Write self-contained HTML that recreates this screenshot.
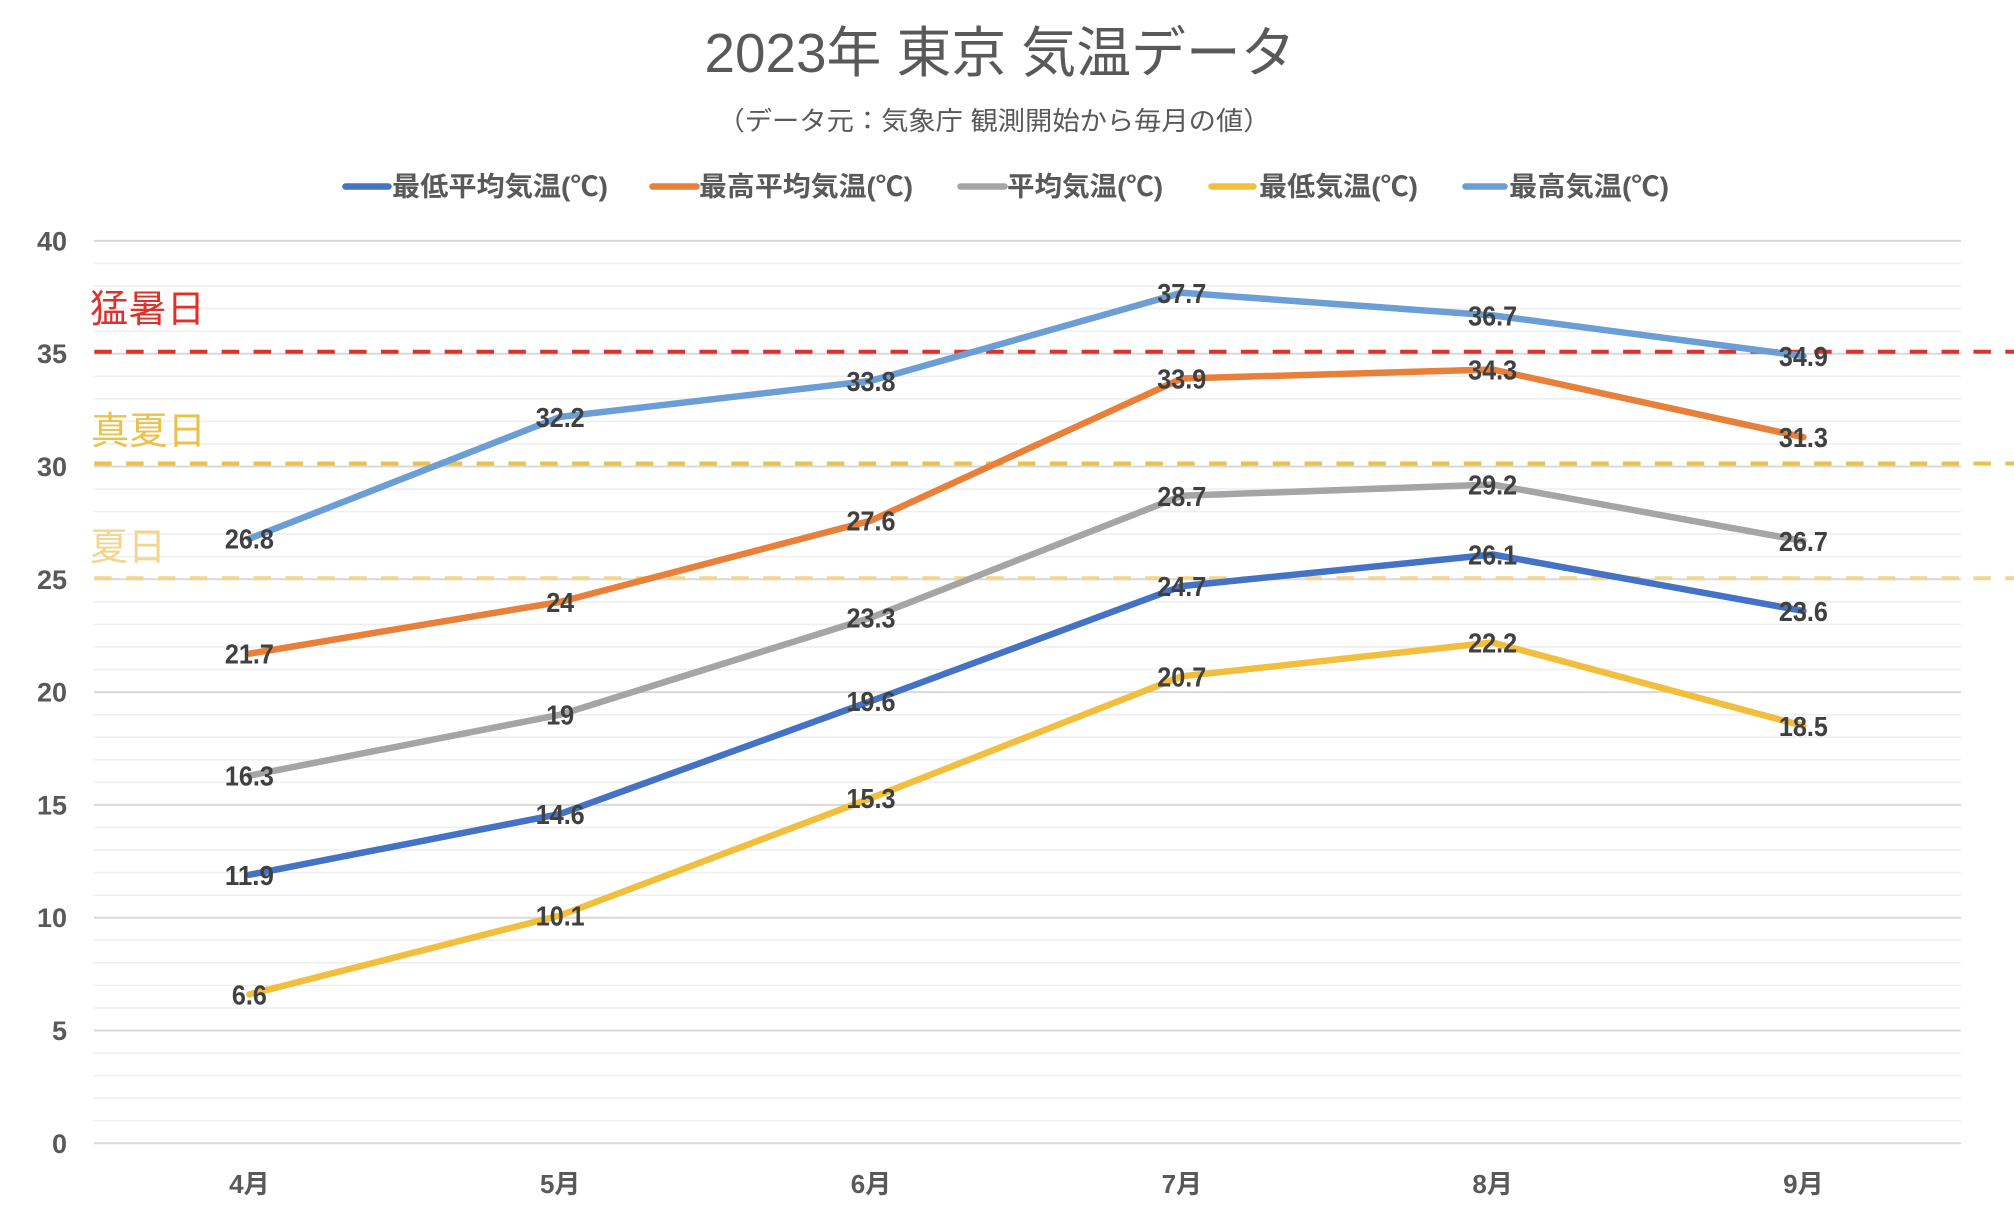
<!DOCTYPE html>
<html><head><meta charset="utf-8"><style>
html,body{margin:0;padding:0;background:#fff;}
svg{display:block;}
text{font-family:"Liberation Sans","Noto Sans CJK JP",sans-serif;}
</style></head><body>
<svg width="2014" height="1216" viewBox="0 0 2014 1216" xmlns="http://www.w3.org/2000/svg">
<rect width="2014" height="1216" fill="#fff"/>
<!-- title -->
<text x="1000" y="72" font-size="55" fill="#595959" text-anchor="middle" textLength="591" lengthAdjust="spacingAndGlyphs">2023年 東京 気温データ</text>
<text x="994" y="130" font-size="26" fill="#595959" text-anchor="middle" textLength="553" lengthAdjust="spacingAndGlyphs">（データ元：気象庁 観測開始から毎月の値）</text>
<!-- legend -->
<g stroke-width="6.5" stroke-linecap="round">
<line x1="345.5" y1="186.5" x2="388.5" y2="186.5" stroke="#4472C4"/>
<line x1="652.5" y1="186.5" x2="696.5" y2="186.5" stroke="#E8803A"/>
<line x1="960.5" y1="186.5" x2="1004.5" y2="186.5" stroke="#A5A5A5"/>
<line x1="1211.5" y1="186.5" x2="1253.5" y2="186.5" stroke="#F2BE3E"/>
<line x1="1465.5" y1="186.5" x2="1504.5" y2="186.5" stroke="#6A9ED4"/>
</g>
<g font-size="27" font-weight="bold" fill="#595959">
<text x="392" y="196" textLength="216" lengthAdjust="spacingAndGlyphs">最低平均気温(℃)</text>
<text x="699" y="196" textLength="214" lengthAdjust="spacingAndGlyphs">最高平均気温(℃)</text>
<text x="1007" y="196" textLength="156" lengthAdjust="spacingAndGlyphs">平均気温(℃)</text>
<text x="1259" y="196" textLength="159" lengthAdjust="spacingAndGlyphs">最低気温(℃)</text>
<text x="1509" y="196" textLength="160" lengthAdjust="spacingAndGlyphs">最高気温(℃)</text>
</g>
<!-- minor gridlines -->
<g stroke="#EFEFEF" stroke-width="1.6">
<line x1="94" x2="1961" y1="1120.74" y2="1120.74"/><line x1="94" x2="1961" y1="1098.18" y2="1098.18"/><line x1="94" x2="1961" y1="1075.62" y2="1075.62"/><line x1="94" x2="1961" y1="1053.06" y2="1053.06"/>
<line x1="94" x2="1961" y1="1007.94" y2="1007.94"/><line x1="94" x2="1961" y1="985.38" y2="985.38"/><line x1="94" x2="1961" y1="962.82" y2="962.82"/><line x1="94" x2="1961" y1="940.26" y2="940.26"/>
<line x1="94" x2="1961" y1="895.14" y2="895.14"/><line x1="94" x2="1961" y1="872.58" y2="872.58"/><line x1="94" x2="1961" y1="850.02" y2="850.02"/><line x1="94" x2="1961" y1="827.46" y2="827.46"/>
<line x1="94" x2="1961" y1="782.34" y2="782.34"/><line x1="94" x2="1961" y1="759.78" y2="759.78"/><line x1="94" x2="1961" y1="737.22" y2="737.22"/><line x1="94" x2="1961" y1="714.66" y2="714.66"/>
<line x1="94" x2="1961" y1="669.54" y2="669.54"/><line x1="94" x2="1961" y1="646.98" y2="646.98"/><line x1="94" x2="1961" y1="624.42" y2="624.42"/><line x1="94" x2="1961" y1="601.86" y2="601.86"/>
<line x1="94" x2="1961" y1="556.74" y2="556.74"/><line x1="94" x2="1961" y1="534.18" y2="534.18"/><line x1="94" x2="1961" y1="511.62" y2="511.62"/><line x1="94" x2="1961" y1="489.06" y2="489.06"/>
<line x1="94" x2="1961" y1="443.94" y2="443.94"/><line x1="94" x2="1961" y1="421.38" y2="421.38"/><line x1="94" x2="1961" y1="398.82" y2="398.82"/><line x1="94" x2="1961" y1="376.26" y2="376.26"/>
<line x1="94" x2="1961" y1="331.14" y2="331.14"/><line x1="94" x2="1961" y1="308.58" y2="308.58"/><line x1="94" x2="1961" y1="286.02" y2="286.02"/><line x1="94" x2="1961" y1="263.46" y2="263.46"/>
</g>
<!-- major gridlines -->
<g stroke="#D9D9D9" stroke-width="2">
<line x1="94" x2="1961" y1="1143.3" y2="1143.3"/><line x1="94" x2="1961" y1="1030.5" y2="1030.5"/><line x1="94" x2="1961" y1="917.7" y2="917.7"/><line x1="94" x2="1961" y1="804.9" y2="804.9"/>
<line x1="94" x2="1961" y1="692.1" y2="692.1"/><line x1="94" x2="1961" y1="579.3" y2="579.3"/><line x1="94" x2="1961" y1="466.5" y2="466.5"/><line x1="94" x2="1961" y1="353.7" y2="353.7"/>
<line x1="94" x2="1961" y1="240.9" y2="240.9"/>
</g>
<!-- y axis labels -->
<g font-size="27" font-weight="bold" fill="#595959" text-anchor="end">
<text x="67" y="250.4">40</text><text x="67" y="363.2">35</text><text x="67" y="476">30</text><text x="67" y="588.8">25</text>
<text x="67" y="701.6">20</text><text x="67" y="814.4">15</text><text x="67" y="927.2">10</text><text x="67" y="1040">5</text><text x="67" y="1152.8">0</text>
</g>
<!-- x axis labels -->
<g font-size="26" font-weight="bold" fill="#595959" text-anchor="middle">
<text x="249.4" y="1193">4月</text><text x="560.2" y="1193">5月</text><text x="871" y="1193">6月</text>
<text x="1181.8" y="1193">7月</text><text x="1492.6" y="1193">8月</text><text x="1803.4" y="1193">9月</text>
</g>
<!-- threshold dashed lines -->
<g stroke-width="4" stroke-dasharray="17.5 14.35" fill="none">
<line x1="94.3" x2="2014" y1="351.7" y2="351.7" stroke="#E0302A"/>
<line x1="94.3" x2="2014" y1="463.5" y2="463.5" stroke="#EBC14A"/>
<line x1="94.3" x2="2014" y1="578.3" y2="578.3" stroke="#F0D68E"/>
</g>
<!-- threshold labels -->
<text x="90" y="322" font-size="38" fill="#E0302A" textLength="115" lengthAdjust="spacingAndGlyphs">猛暑日</text>
<text x="91" y="444" font-size="38" fill="#EBC14A" textLength="115" lengthAdjust="spacingAndGlyphs">真夏日</text>
<text x="90" y="560" font-size="38" fill="#F0D68E" textLength="76" lengthAdjust="spacingAndGlyphs">夏日</text>
<!-- series -->
<g fill="none" stroke-width="6.5" stroke-linejoin="round" stroke-linecap="round">
<polyline stroke="#4472C4" points="249.4,874.8 560.2,813.9 871,701.1 1181.8,586.1 1492.6,554.5 1803.4,610.9"/>
<polyline stroke="#E8803A" points="249.4,653.7 560.2,601.9 871,520.6 1181.8,378.5 1492.6,369.5 1803.4,437.2"/>
<polyline stroke="#A5A5A5" points="249.4,775.6 560.2,714.7 871,617.6 1181.8,495.8 1492.6,484.5 1803.4,541.0"/>
<polyline stroke="#F2BE3E" points="249.4,994.4 560.2,915.4 871,798.1 1181.8,676.3 1492.6,642.5 1803.4,725.9"/>
<polyline stroke="#6A9ED4" points="249.4,538.7 560.2,416.9 871,380.8 1181.8,292.8 1492.6,315.4 1803.4,356.0"/>
</g>
<!-- data labels -->
<g font-size="28" font-weight="bold" fill="#404040" text-anchor="middle" lengthAdjust="spacingAndGlyphs">
<text x="249.4" y="884.8" textLength="49" lengthAdjust="spacingAndGlyphs">11.9</text>
<text x="560.2" y="823.9" textLength="49" lengthAdjust="spacingAndGlyphs">14.6</text>
<text x="871" y="711.1" textLength="49" lengthAdjust="spacingAndGlyphs">19.6</text>
<text x="1181.8" y="596.1" textLength="49" lengthAdjust="spacingAndGlyphs">24.7</text>
<text x="1492.6" y="564.5" textLength="49" lengthAdjust="spacingAndGlyphs">26.1</text>
<text x="1803.4" y="620.9" textLength="49" lengthAdjust="spacingAndGlyphs">23.6</text>

<text x="249.4" y="663.7" textLength="49" lengthAdjust="spacingAndGlyphs">21.7</text>
<text x="560.2" y="611.9" textLength="28" lengthAdjust="spacingAndGlyphs">24</text>
<text x="871" y="530.6" textLength="49" lengthAdjust="spacingAndGlyphs">27.6</text>
<text x="1181.8" y="388.5" textLength="49" lengthAdjust="spacingAndGlyphs">33.9</text>
<text x="1492.6" y="379.5" textLength="49" lengthAdjust="spacingAndGlyphs">34.3</text>
<text x="1803.4" y="447.2" textLength="49" lengthAdjust="spacingAndGlyphs">31.3</text>

<text x="249.4" y="785.6" textLength="49" lengthAdjust="spacingAndGlyphs">16.3</text>
<text x="560.2" y="724.7" textLength="28" lengthAdjust="spacingAndGlyphs">19</text>
<text x="871" y="627.6" textLength="49" lengthAdjust="spacingAndGlyphs">23.3</text>
<text x="1181.8" y="505.8" textLength="49" lengthAdjust="spacingAndGlyphs">28.7</text>
<text x="1492.6" y="494.5" textLength="49" lengthAdjust="spacingAndGlyphs">29.2</text>
<text x="1803.4" y="551.0" textLength="49" lengthAdjust="spacingAndGlyphs">26.7</text>

<text x="249.4" y="1004.4" textLength="35" lengthAdjust="spacingAndGlyphs">6.6</text>
<text x="560.2" y="925.4" textLength="49" lengthAdjust="spacingAndGlyphs">10.1</text>
<text x="871" y="808.1" textLength="49" lengthAdjust="spacingAndGlyphs">15.3</text>
<text x="1181.8" y="686.3" textLength="49" lengthAdjust="spacingAndGlyphs">20.7</text>
<text x="1492.6" y="652.5" textLength="49" lengthAdjust="spacingAndGlyphs">22.2</text>
<text x="1803.4" y="735.9" textLength="49" lengthAdjust="spacingAndGlyphs">18.5</text>

<text x="249.4" y="548.7" textLength="49" lengthAdjust="spacingAndGlyphs">26.8</text>
<text x="560.2" y="426.9" textLength="49" lengthAdjust="spacingAndGlyphs">32.2</text>
<text x="871" y="390.8" textLength="49" lengthAdjust="spacingAndGlyphs">33.8</text>
<text x="1181.8" y="302.8" textLength="49" lengthAdjust="spacingAndGlyphs">37.7</text>
<text x="1492.6" y="325.4" textLength="49" lengthAdjust="spacingAndGlyphs">36.7</text>
<text x="1803.4" y="366.0" textLength="49" lengthAdjust="spacingAndGlyphs">34.9</text>
</g>
</svg>
</body></html>
